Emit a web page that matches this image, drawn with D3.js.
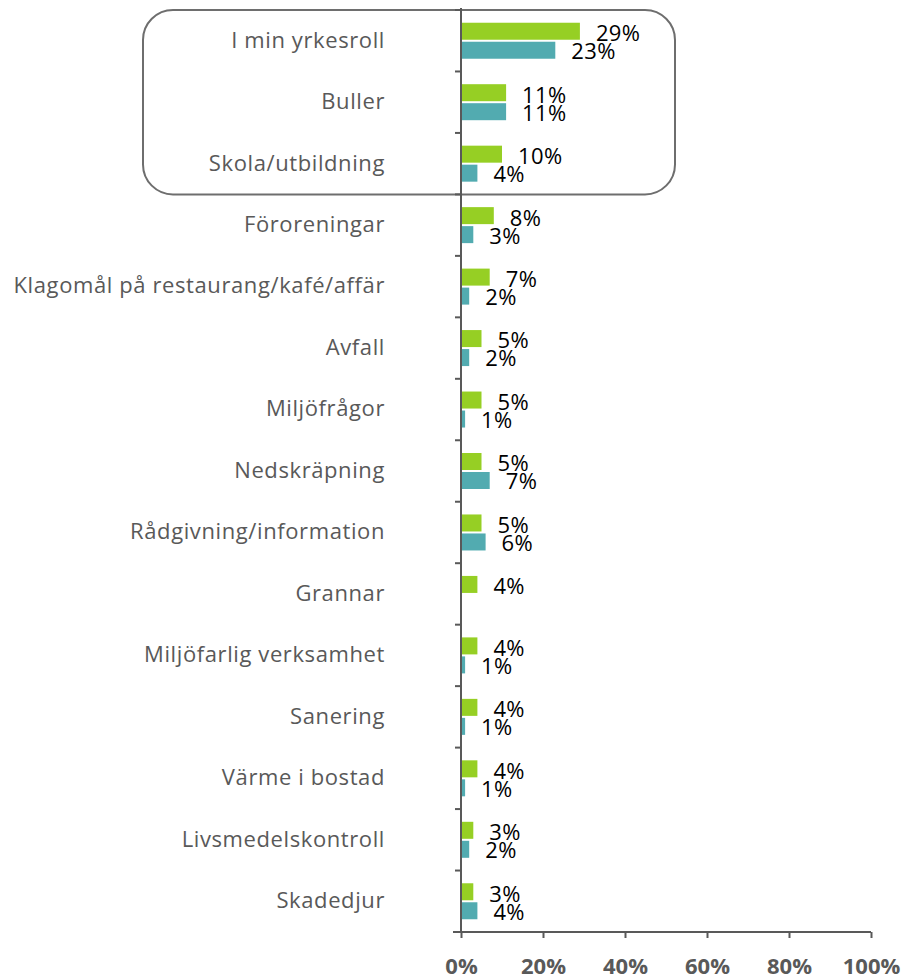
<!DOCTYPE html>
<html>
<head>
<meta charset="utf-8">
<script src="https://cdn.jsdelivr.net/npm/d3@7"></script>
<style>
  body { margin: 0; background: #fff; }
  svg text { font-family: "Open Sans", "Liberation Sans", sans-serif; }
</style>
</head>
<body>
<div id="chart"></div>
<script>
var categories = [
    "I min yrkesroll", "Buller", "Skola/utbildning", "Föroreningar",
    "Klagomål på restaurang/kafé/affär", "Avfall", "Miljöfrågor",
    "Nedskräpning", "Rådgivning/information", "Grannar",
    "Miljöfarlig verksamhet", "Sanering", "Värme i bostad",
    "Livsmedelskontroll", "Skadedjur"
];
var greenValues = [29, 11, 10, 8, 7, 5, 5, 5, 5, 4, 4, 4, 4, 3, 3];
var tealValues  = [23, 11, 4, 3, 2, 2, 1, 7, 6, null, 1, 1, 1, 2, 4];
var xTicks = [0, 20, 40, 60, 80, 100];

var width = 904, height = 979;
var margin = {top: 10, left: 461, right: 33, bottom: 47};

var svg = d3.select("#chart")
    .append("svg")
    .attr("width", width)
    .attr("height", height);

var x = d3.scaleLinear()
    .domain([0, 100])
    .range([margin.left, width - margin.right]);

var y = d3.scaleBand()
    .domain(categories)
    .range([margin.top, height - margin.bottom]);

var barH = 17, gap = 2;

var rows = categories.map(function(c, i) {
    return {cat: c, green: greenValues[i], teal: tealValues[i]};
});

// highlight box round the first three categories
svg.append("rect")
    .attr("x", 143)
    .attr("y", y(categories[0]))
    .attr("width", 675 - 143)
    .attr("height", y(categories[2]) + y.bandwidth() - y(categories[0]))
    .attr("rx", 30)
    .attr("ry", 30)
    .attr("fill", "none")
    .attr("stroke", "#6e6e6e")
    .attr("stroke-width", 2);

var row = svg.selectAll("g.row")
    .data(rows)
    .enter()
    .append("g")
    .attr("class", "row")
    .attr("transform", function(d) { return "translate(0," + y(d.cat) + ")"; });

var mid = y.bandwidth() / 2;

row.append("rect")
    .attr("x", x(0))
    .attr("y", mid - gap / 2 - barH)
    .attr("width", function(d) { return x(d.green) - x(0); })
    .attr("height", barH)
    .attr("fill", "#96cf24");

row.filter(function(d) { return d.teal != null; })
    .append("rect")
    .attr("x", x(0))
    .attr("y", mid + gap / 2)
    .attr("width", function(d) { return x(d.teal) - x(0); })
    .attr("height", barH)
    .attr("fill", "#52abb0");

row.append("text")
    .attr("x", function(d) { return x(d.green) + 16; })
    .attr("y", mid - gap / 2 - barH / 2 + 4)
    .attr("dominant-baseline", "middle")
    .style("font-size", "22px")
    .style("letter-spacing", "0.4px")
    .attr("fill", "#000")
    .text(function(d) { return d.green + "%"; });

row.filter(function(d) { return d.teal != null; })
    .append("text")
    .attr("x", function(d) { return x(d.teal) + 16; })
    .attr("y", mid + gap / 2 + barH / 2 + 3)
    .attr("dominant-baseline", "middle")
    .style("font-size", "22px")
    .style("letter-spacing", "0.4px")
    .attr("fill", "#000")
    .text(function(d) { return d.teal + "%"; });

row.append("text")
    .attr("x", 385)
    .attr("y", mid + 1)
    .attr("text-anchor", "end")
    .attr("dominant-baseline", "middle")
    .style("font-size", "22px")
    .style("letter-spacing", "0.6px")
    .attr("fill", "#595959")
    .text(function(d) { return d.cat; });

// y axis
var yAxis = svg.append("g")
    .attr("transform", "translate(" + x(0) + ",0)")
    .call(d3.axisLeft(y).tickValues([]).tickSizeOuter(0));
yAxis.select(".domain").remove();
yAxis.append("line")
    .attr("y1", margin.top - 2)
    .attr("y2", height - margin.bottom)
    .attr("stroke", "#595959")
    .attr("stroke-width", 2);
yAxis.selectAll("line.tk")
    .data(d3.range(categories.length))
    .enter()
    .append("line")
    .attr("class", "tk")
    .attr("x1", -6)
    .attr("x2", 0)
    .attr("y1", function(i) { return y(categories[i]); })
    .attr("y2", function(i) { return y(categories[i]); })
    .attr("stroke", "#595959")
    .attr("stroke-width", 2);

// x axis
var xAxis = svg.append("g")
    .attr("transform", "translate(0," + (height - margin.bottom) + ")")
    .call(d3.axisBottom(x)
        .tickValues(xTicks)
        .tickSize(6)
        .tickSizeOuter(0)
        .tickPadding(20)
        .tickFormat(function(d) { return d + "%"; }));
xAxis.select(".domain")
    .attr("d", "M" + (x(0) - 8) + ",0H" + x(100))
    .attr("stroke", "#595959")
    .attr("stroke-width", 2);
xAxis.selectAll(".tick line")
    .attr("stroke", "#595959")
    .attr("stroke-width", 2);
xAxis.selectAll(".tick text")
    .style("font-size", "22px")
    .style("font-weight", "bold")
    .style("font-family", "'Open Sans', sans-serif")
    .attr("fill", "#595959");
</script>
</body>
</html>
